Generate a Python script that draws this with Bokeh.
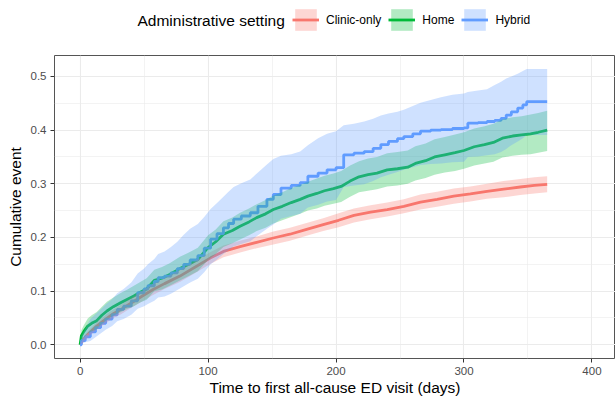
from bokeh.plotting import figure
from bokeh.layouts import column
from bokeh.models import (ColumnDataSource, FixedTicker, PrintfTickFormatter,
                          Legend, LegendItem, Label, Range1d)
from bokeh.embed import file_html
from bokeh.resources import INLINE

# ---------------- data ----------------
groups = ["Clinic-only", "Home", "Hybrid"]
colors = ["#F8766D", "#00BA38", "#619CFF"]

clinic_t = [0, 2, 4, 8, 13, 20, 26, 32, 40, 48, 57, 66, 78, 90, 102, 112, 125, 138,
            151, 164, 177, 190, 202, 214, 227, 240, 253, 266, 279, 292, 305, 318,
            331, 344, 355, 365]
clinic_est = [0, 0.008, 0.014, 0.024, 0.035, 0.048, 0.058, 0.066, 0.078, 0.090,
              0.103, 0.114, 0.128, 0.145, 0.162, 0.174, 0.183, 0.191, 0.199, 0.206,
              0.215, 0.224, 0.232, 0.241, 0.247, 0.252, 0.258, 0.266, 0.271, 0.277,
              0.281, 0.286, 0.290, 0.294, 0.297, 0.299]
clinic_lo = [0, 0.004, 0.009, 0.018, 0.028, 0.040, 0.050, 0.057, 0.069, 0.080,
             0.093, 0.104, 0.117, 0.134, 0.151, 0.163, 0.172, 0.180, 0.187, 0.194,
             0.203, 0.212, 0.219, 0.228, 0.234, 0.239, 0.245, 0.252, 0.257, 0.263,
             0.267, 0.272, 0.275, 0.279, 0.282, 0.284]
clinic_hi = [0, 0.012, 0.019, 0.030, 0.042, 0.056, 0.066, 0.075, 0.087, 0.100,
             0.113, 0.124, 0.139, 0.156, 0.173, 0.185, 0.194, 0.202, 0.211, 0.218,
             0.227, 0.236, 0.245, 0.254, 0.260, 0.265, 0.271, 0.280, 0.285, 0.291,
             0.295, 0.300, 0.305, 0.309, 0.312, 0.314]

home_t = [0, 1, 3, 6, 9, 13, 17, 21, 26, 32, 37, 42, 47, 52, 58, 64, 70, 78, 85, 92,
          100, 106, 112, 119, 125, 132, 138, 145, 151, 158, 165, 172, 178, 185, 191,
          198, 204, 211, 218, 225, 232, 240, 248, 256, 262, 270, 277, 285, 293, 300,
          308, 316, 323, 330, 338, 345, 352, 358, 365]
home_est = [0, 0.017, 0.025, 0.035, 0.040, 0.045, 0.055, 0.063, 0.071, 0.079,
            0.085, 0.091, 0.098, 0.104, 0.120, 0.124, 0.131, 0.142, 0.150, 0.159,
            0.181, 0.192, 0.206, 0.213, 0.221, 0.229, 0.237, 0.244, 0.252, 0.258,
            0.265, 0.271, 0.277, 0.282, 0.287, 0.291, 0.295, 0.305, 0.313, 0.317,
            0.320, 0.326, 0.328, 0.331, 0.338, 0.343, 0.350, 0.354, 0.358, 0.362,
            0.369, 0.373, 0.377, 0.385, 0.389, 0.391, 0.393, 0.396, 0.400]
home_lo = [0, 0.007, 0.013, 0.021, 0.025, 0.029, 0.039, 0.046, 0.054, 0.061,
           0.067, 0.072, 0.079, 0.084, 0.100, 0.103, 0.110, 0.120, 0.128, 0.137,
           0.158, 0.169, 0.182, 0.189, 0.196, 0.204, 0.212, 0.218, 0.226, 0.232,
           0.238, 0.244, 0.250, 0.254, 0.259, 0.263, 0.266, 0.276, 0.284, 0.287,
           0.290, 0.295, 0.297, 0.300, 0.306, 0.311, 0.317, 0.321, 0.324, 0.328,
           0.334, 0.338, 0.341, 0.349, 0.352, 0.354, 0.355, 0.358, 0.361]
home_hi = [0, 0.027, 0.037, 0.049, 0.055, 0.061, 0.071, 0.080, 0.088, 0.097,
           0.103, 0.110, 0.117, 0.124, 0.140, 0.145, 0.152, 0.164, 0.172, 0.181,
           0.204, 0.215, 0.230, 0.237, 0.246, 0.254, 0.262, 0.270, 0.278, 0.284,
           0.292, 0.298, 0.304, 0.310, 0.315, 0.319, 0.324, 0.334, 0.342, 0.347,
           0.350, 0.357, 0.359, 0.362, 0.370, 0.375, 0.383, 0.387, 0.392, 0.396,
           0.403, 0.407, 0.412, 0.420, 0.424, 0.426, 0.429, 0.432, 0.436]

hybrid_t = [0, 1, 4, 8, 12, 16, 20, 25, 29, 34, 40, 45, 50, 53, 58, 61, 66, 71, 76,
            81, 86, 92, 97, 102, 107, 112, 116, 120, 126, 133, 139, 146, 151, 157,
            165, 172, 178, 186, 193, 200, 206, 214, 222, 229, 235, 241, 248, 253,
            260, 266, 274, 282, 291, 300, 303, 311, 318, 324, 329, 333, 337, 342,
            346, 349, 365]
hybrid_est = [0, 0.008, 0.015, 0.024, 0.032, 0.040, 0.048, 0.056, 0.066, 0.072,
              0.082, 0.097, 0.104, 0.110, 0.118, 0.125, 0.128, 0.134, 0.142, 0.150,
              0.158, 0.166, 0.180, 0.197, 0.207, 0.218, 0.226, 0.234, 0.240, 0.246,
              0.258, 0.271, 0.280, 0.292, 0.297, 0.302, 0.314, 0.320, 0.326, 0.330,
              0.354, 0.357, 0.360, 0.366, 0.373, 0.379, 0.384, 0.388, 0.393, 0.398,
              0.400, 0.401, 0.403, 0.404, 0.413, 0.414, 0.416, 0.418, 0.422, 0.428,
              0.434, 0.441, 0.447, 0.453, 0.453]
hybrid_lo = [0, 0.002, 0.005, 0.007, 0.014, 0.021, 0.028, 0.035, 0.044, 0.048,
             0.056, 0.067, 0.072, 0.076, 0.082, 0.088, 0.090, 0.095, 0.102, 0.109,
             0.116, 0.123, 0.135, 0.150, 0.159, 0.169, 0.176, 0.183, 0.188, 0.193,
             0.204, 0.216, 0.224, 0.235, 0.240, 0.244, 0.256, 0.261, 0.267, 0.270,
             0.294, 0.297, 0.299, 0.305, 0.312, 0.317, 0.322, 0.326, 0.331, 0.335,
             0.337, 0.338, 0.340, 0.341, 0.350, 0.351, 0.353, 0.355, 0.359, 0.365,
             0.372, 0.379, 0.385, 0.391, 0.391]
hybrid_hi = [0, 0.016, 0.030, 0.048, 0.057, 0.066, 0.075, 0.085, 0.096, 0.104,
             0.116, 0.133, 0.142, 0.150, 0.160, 0.169, 0.174, 0.182, 0.192, 0.205,
             0.216, 0.225, 0.238, 0.253, 0.264, 0.276, 0.285, 0.294, 0.301, 0.308,
             0.321, 0.336, 0.346, 0.352, 0.355, 0.360, 0.372, 0.385, 0.393, 0.398,
             0.409, 0.412, 0.416, 0.421, 0.427, 0.431, 0.434, 0.438, 0.445, 0.451,
             0.456, 0.461, 0.466, 0.468, 0.471, 0.474, 0.476, 0.484, 0.490, 0.496,
             0.500, 0.505, 0.510, 0.514, 0.514]

x_ticks = [0, 100, 200, 300, 400]
x_minor = [50, 150, 250, 350]
y_ticks = [0.0, 0.1, 0.2, 0.3, 0.4, 0.5]
y_minor = [0.05, 0.15, 0.25, 0.35, 0.45]

legend_title = "Administrative setting"
x_title = "Time to first all-cause ED visit (days)"
y_title = "Cumulative event"

series = [
    (clinic_t, clinic_est, clinic_lo, clinic_hi),
    (home_t, home_est, home_lo, home_hi),
    (hybrid_t, hybrid_est, hybrid_lo, hybrid_hi),
]
# fine-stepped curves are drawn as lines, the coarse-stepped one as steps
stepped = [False, False, True]

FONT = "Liberation Sans"
LINE_W = 2.8
BAND_ALPHA = 0.3

# ---------------- main plot ----------------
p = figure(width=615, height=358, output_backend="svg", toolbar_location=None,
           x_range=Range1d(-20, 418.4), y_range=Range1d(-0.0255, 0.539),
           min_border_left=54, min_border_right=0, min_border_top=15,
           min_border_bottom=39)
p.title.visible = False
p.background_fill_color = "white"
p.border_fill_color = "white"
p.outline_line_color = "#555555"
p.outline_line_width = 1

p.xaxis.ticker = FixedTicker(ticks=x_ticks, minor_ticks=x_minor)
p.yaxis.ticker = FixedTicker(ticks=y_ticks, minor_ticks=y_minor)
p.yaxis.formatter = PrintfTickFormatter(format="%.1f")

for ax in (p.xaxis, p.yaxis):
    ax.axis_line_color = None
    ax.major_tick_line_color = "#333333"
    ax.major_tick_out = 4
    ax.major_tick_in = 0
    ax.minor_tick_line_color = None
    ax.major_label_text_font = FONT
    ax.major_label_text_font_size = "11.5px"
    ax.major_label_text_color = "#4d4d4d"
    ax.major_label_standoff = 4
    ax.axis_label_text_font = FONT
    ax.axis_label_text_font_size = "15.5px"
    ax.axis_label_text_font_style = "normal"
    ax.axis_label_text_color = "black"
p.xaxis.axis_label_standoff = 1
p.yaxis.axis_label_standoff = 4

p.xaxis.axis_label = x_title
p.yaxis.axis_label = y_title

for g in (p.xgrid, p.ygrid):
    g.grid_line_color = "#ebebeb"
    g.grid_line_width = 1.1
    g.minor_grid_line_color = "#ebebeb"
    g.minor_grid_line_width = 0.6

sources = [ColumnDataSource(dict(t=t, est=est, lo=lo, hi=hi))
           for (t, est, lo, hi) in series]

# lines first, ribbons on top (as in the reference)
for src, col, st in zip(sources, colors, stepped):
    if st:
        p.step("t", "est", source=src, mode="after", line_color=col, line_width=LINE_W)
    else:
        p.line("t", "est", source=src, line_color=col, line_width=LINE_W)
for src, col in zip(sources, colors):
    p.varea(x="t", y1="lo", y2="hi", source=src,
            fill_color=col, fill_alpha=BAND_ALPHA)

# ---------------- legend strip on top ----------------
# its view range lies left of all data, so only the legend shows
lf = figure(width=615, height=40, output_backend="svg", toolbar_location=None,
            x_range=Range1d(-200, -100), y_range=Range1d(0, 1),
            x_axis_type=None, y_axis_type=None,
            min_border_left=0, min_border_right=0, min_border_top=0,
            min_border_bottom=0)
lf.title.visible = False
lf.outline_line_color = None
lf.background_fill_color = "white"
lf.border_fill_color = "white"
lf.xgrid.visible = False
lf.ygrid.visible = False

items = []
for g, col, src in zip(groups, colors, sources):
    b = lf.varea(x="t", y1="lo", y2="hi", source=src, fill_color=col,
                 fill_alpha=BAND_ALPHA)
    l = lf.line("t", "est", source=src, line_color=col, line_width=LINE_W)
    items.append(LegendItem(label=g, renderers=[b, l]))

# the strip's frame is aligned with the main frame (left edge at 54 px)
legend = Legend(items=items, orientation="horizontal", location=(238, 7),
                glyph_width=27, glyph_height=27, label_standoff=7, spacing=7,
                padding=0, margin=0, border_line_color=None,
                background_fill_alpha=0,
                label_text_font=FONT, label_text_font_size="12px",
                label_text_color="black")
lf.add_layout(legend)
lf.add_layout(Label(x=83, y=20.5, x_units="screen", y_units="screen",
                    text=legend_title, text_font=FONT, text_font_size="15.5px",
                    text_baseline="middle", text_align="left", text_color="black"))

layout = column(lf, p, spacing=0)
open("out.html", "w").write(file_html(layout, INLINE))
